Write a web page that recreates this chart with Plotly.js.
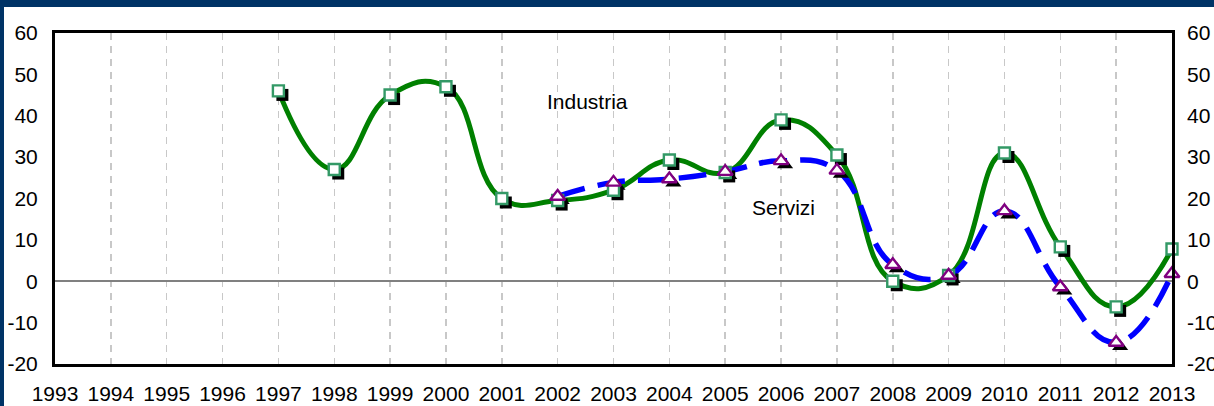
<!DOCTYPE html>
<html><head><meta charset="utf-8">
<script src="https://cdn.plot.ly/plotly-3.0.1.min.js"></script>
<style>
html,body{margin:0;padding:0;background:#003366;width:1214px;height:406px;overflow:hidden}
#chart{position:absolute;left:4px;top:7px;width:1210px;height:399px;background:#fff}
</style></head><body><div id="chart"></div>
<script>
const industriaYears = [1997,1998,1999,2000,2001,2002,2003,2004,2005,2006,2007,2008,2009,2010,2011,2012,2013];
const industriaValues = [46,27,45,47,20,19.5,22,29.3,26.3,39,30.5,0,1.4,31,8.3,-6.2,7.8];
const serviziYears = [2002,2003,2004,2005,2006,2007,2008,2009,2010,2011,2012,2013];
const serviziValues = [20.5,23.9,24.7,26.5,29.1,26.8,4,1.4,17,-1.4,-14.8,1.8];
const yearTicks = [1993,1994,1995,1996,1997,1998,1999,2000,2001,2002,2003,2004,2005,2006,2007,2008,2009,2010,2011,2012,2013];
const yTicks = [-20,-10,0,10,20,30,40,50,60];
const labelIndustria = 'Industria';
const labelServizi = 'Servizi';

const W = 1210, H = 399;
const M = {l:51, r:42, t:26, b:42};
const plotW = W - M.l - M.r, plotH = H - M.t - M.b;
const xr = [1993, 2013], yr = [-20, 60];
const shX = 4 * (xr[1]-xr[0]) / plotW;
const shY = 4 * (yr[1]-yr[0]) / plotH;
const font = {family:'Liberation Sans, Arial, sans-serif', size:21, color:'#000'};

const traces = [
  {x:industriaYears, y:industriaValues, type:'scatter', mode:'lines', xaxis:'x', yaxis:'y',
   line:{color:'#008000', width:5, shape:'spline', smoothing:1.3}, hoverinfo:'skip'},
  {x:serviziYears, y:serviziValues, type:'scatter', mode:'lines', xaxis:'x', yaxis:'y',
   line:{color:'#0000ff', width:5.5, shape:'spline', smoothing:1.3, dash:'28px,13px'}, hoverinfo:'skip'},
  // shadows
  {x:industriaYears, y:industriaValues, type:'scatter', mode:'markers', xaxis:'x2', yaxis:'y2', cliponaxis:false,
   marker:{symbol:'square', size:12, color:'#000', line:{width:0}}, hoverinfo:'skip'},
  {x:serviziYears, y:serviziValues, type:'scatter', mode:'markers', xaxis:'x2', yaxis:'y2', cliponaxis:false,
   marker:{symbol:'triangle-up', size:14, color:'#000', line:{width:0}}, hoverinfo:'skip'},
  // markers
  {x:industriaYears, y:industriaValues, type:'scatter', mode:'markers', xaxis:'x3', yaxis:'y3', cliponaxis:false,
   marker:{symbol:'square', size:11, color:'#fff', line:{width:2.4, color:'#339966'}}},
  {x:serviziYears, y:serviziValues, type:'scatter', mode:'markers', xaxis:'x3', yaxis:'y3', cliponaxis:false,
   marker:{symbol:'triangle-up', size:13, color:'#fff', line:{width:2.4, color:'#800080'}}}
];

const hiddenAx = {showgrid:false, zeroline:false, showline:false, showticklabels:false, ticks:''};
const layout = {
  width:W, height:H, margin:M, showlegend:false,
  paper_bgcolor:'#fff', plot_bgcolor:'#fff', font:font,
  xaxis:{range:xr, tickmode:'array', tickvals:yearTicks, ticktext:yearTicks.map(String),
    showgrid:true, gridcolor:'#c8c8c8', gridwidth:1.5, griddash:'7px,6px',
    zeroline:false, showline:true, linecolor:'#000', linewidth:3, mirror:true,
    ticks:'', ticklabelstandoff:9, tickfont:font, fixedrange:true},
  yaxis:{range:yr, tickmode:'array', tickvals:yTicks, ticktext:yTicks.map(String),
    showgrid:false, zeroline:true, zerolinecolor:'#808080', zerolinewidth:2,
    showline:true, linecolor:'#000', linewidth:3, mirror:true,
    ticks:'', ticklabelstandoff:10, tickfont:font, fixedrange:true},
  xaxis2:Object.assign({overlaying:'x', range:[xr[0]-shX, xr[1]-shX]}, hiddenAx),
  yaxis2:Object.assign({overlaying:'y', range:[yr[0]+shY, yr[1]+shY]}, hiddenAx),
  xaxis3:Object.assign({overlaying:'x', range:xr}, hiddenAx),
  yaxis3:{overlaying:'y', side:'right', range:yr, tickmode:'array', tickvals:yTicks, ticktext:yTicks.map(String),
    showgrid:false, zeroline:false, showline:false, ticks:'', ticklabelstandoff:14, tickfont:font},
  annotations:[
    {x:2002.53, y:43.4, xref:'x', yref:'y', text:labelIndustria, showarrow:false, font:font},
    {x:2006.05, y:17.8, xref:'x', yref:'y', text:labelServizi, showarrow:false, font:font}
  ]
};
Plotly.newPlot('chart', traces, layout, {staticPlot:true});
</script></body></html>
